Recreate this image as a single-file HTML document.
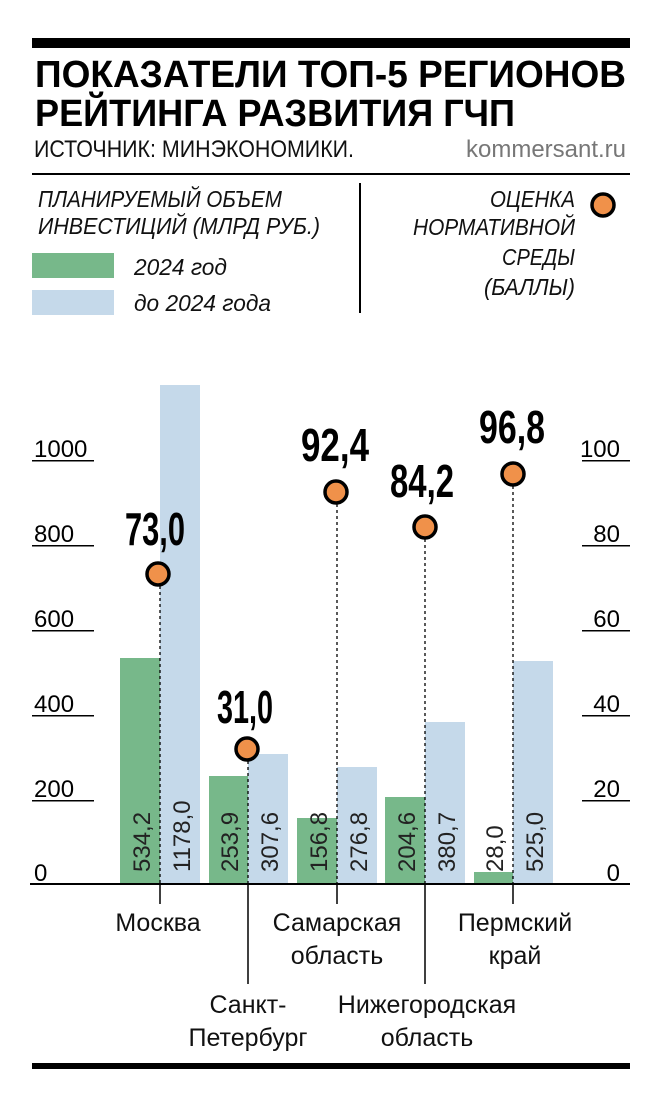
<!DOCTYPE html>
<html><head><meta charset="utf-8"><style>
body{margin:0;background:#fff}
svg{display:block}
text{font-family:"Liberation Sans Narrow","Liberation Sans",sans-serif}
</style></head><body>
<svg width="660" height="1098" viewBox="0 0 660 1098" xmlns="http://www.w3.org/2000/svg">
<rect x="32" y="38" width="598" height="10" fill="#000"/>
<g font-family="Liberation Sans" font-weight="bold" font-size="38" fill="#000">
<text x="35" y="87" textLength="591" lengthAdjust="spacingAndGlyphs">ПОКАЗАТЕЛИ ТОП-5 РЕГИОНОВ</text>
<text x="35" y="126" textLength="480" lengthAdjust="spacingAndGlyphs">РЕЙТИНГА РАЗВИТИЯ ГЧП</text>
</g>
<text x="34" y="157" font-size="24" textLength="320" lengthAdjust="spacingAndGlyphs" fill="#111">ИСТОЧНИК: МИНЭКОНОМИКИ.</text>
<text x="626" y="157" font-size="24" text-anchor="end" textLength="160" lengthAdjust="spacingAndGlyphs" fill="#777">kommersant.ru</text>
<rect x="32" y="173" width="598" height="2" fill="#000"/>
<rect x="359" y="183" width="2" height="130" fill="#000"/>
<g font-size="23" font-style="italic" fill="#111">
<text x="38" y="207" textLength="244" lengthAdjust="spacingAndGlyphs">ПЛАНИРУЕМЫЙ ОБЪЕМ</text>
<text x="38" y="234" textLength="282" lengthAdjust="spacingAndGlyphs">ИНВЕСТИЦИЙ (МЛРД РУБ.)</text>
<text x="134" y="275" textLength="93" lengthAdjust="spacingAndGlyphs">2024 год</text>
<text x="134" y="311" textLength="137" lengthAdjust="spacingAndGlyphs">до 2024 года</text>
<g text-anchor="end">
<text x="575" y="207" textLength="85" lengthAdjust="spacingAndGlyphs">ОЦЕНКА</text>
<text x="575" y="235" textLength="162" lengthAdjust="spacingAndGlyphs">НОРМАТИВНОЙ</text>
<text x="575" y="265" textLength="73" lengthAdjust="spacingAndGlyphs">СРЕДЫ</text>
<text x="575" y="295" textLength="91" lengthAdjust="spacingAndGlyphs">(БАЛЛЫ)</text>
</g></g>
<rect x="32" y="253" width="82" height="25" fill="#77b88a"/>
<rect x="32" y="290" width="82" height="25" fill="#c5d9ea"/>
<circle cx="603" cy="205" r="11" fill="#f0914a" stroke="#000" stroke-width="3.5"/>

<g fill="#000" font-size="24">
<text x="34" y="457">1000</text><rect x="32" y="460" width="62" height="1.5"/>
<text x="34" y="542">800</text><rect x="32" y="545" width="62" height="1.5"/>
<text x="34" y="627">600</text><rect x="32" y="630" width="62" height="1.5"/>
<text x="34" y="712">400</text><rect x="32" y="715" width="62" height="1.5"/>
<text x="34" y="797">200</text><rect x="32" y="800" width="62" height="1.5"/>
<text x="34" y="881">0</text>
<g text-anchor="end">
<text x="620" y="457">100</text><rect x="582" y="460" width="48" height="1.5"/>
<text x="620" y="542">80</text><rect x="582" y="545" width="48" height="1.5"/>
<text x="620" y="627">60</text><rect x="582" y="630" width="48" height="1.5"/>
<text x="620" y="712">40</text><rect x="582" y="715" width="48" height="1.5"/>
<text x="620" y="797">20</text><rect x="582" y="800" width="48" height="1.5"/>
<text x="620" y="881">0</text>
</g></g>

<g fill="#77b88a">
<rect x="120" y="658" width="40" height="226"/>
<rect x="209" y="776" width="39" height="108"/>
<rect x="297" y="818" width="40" height="66"/>
<rect x="385" y="797" width="40" height="87"/>
<rect x="474" y="872" width="39" height="12"/>
</g>
<g fill="#c5d9ea">
<rect x="160" y="385" width="40" height="499"/>
<rect x="248" y="754" width="40" height="130"/>
<rect x="337" y="767" width="40" height="117"/>
<rect x="425" y="722" width="40" height="162"/>
<rect x="513" y="661" width="40" height="223"/>
</g>
<g stroke="#000" stroke-width="1.3" stroke-dasharray="3,3">
<line x1="160" y1="574" x2="160" y2="884"/>
<line x1="248" y1="749" x2="248" y2="884"/>
<line x1="337" y1="492" x2="337" y2="884"/>
<line x1="425" y1="527" x2="425" y2="884"/>
<line x1="513" y1="474" x2="513" y2="884"/>
</g>
<g stroke="#000" stroke-width="1.5">
<line x1="160" y1="884" x2="160" y2="904"/>
<line x1="248" y1="884" x2="248" y2="984"/>
<line x1="337" y1="884" x2="337" y2="904"/>
<line x1="425" y1="884" x2="425" y2="984"/>
<line x1="513" y1="884" x2="513" y2="904"/>
</g>
<rect x="30" y="883" width="600" height="2" fill="#000"/>
<g font-size="24" fill="#222">
<text transform="translate(150,872) rotate(-90)">534,2</text>
<text transform="translate(190,872) rotate(-90)">1178,0</text>
<text transform="translate(238,872) rotate(-90)">253,9</text>
<text transform="translate(278,872) rotate(-90)">307,6</text>
<text transform="translate(327,872) rotate(-90)">156,8</text>
<text transform="translate(367,872) rotate(-90)">276,8</text>
<text transform="translate(415,872) rotate(-90)">204,6</text>
<text transform="translate(455,872) rotate(-90)">380,7</text>
<text transform="translate(503,872) rotate(-90)">28,0</text>
<text transform="translate(543,872) rotate(-90)">525,0</text>
</g>
<g fill="#f0914a" stroke="#000" stroke-width="3.5">
<circle cx="158" cy="574" r="11"/>
<circle cx="247" cy="749" r="11"/>
<circle cx="336" cy="492" r="11"/>
<circle cx="425" cy="527" r="11"/>
<circle cx="513" cy="474" r="11"/>
</g>
<g font-family="Liberation Sans" font-weight="bold" font-size="46" text-anchor="middle" fill="#000">
<text x="155" y="545" textLength="60" lengthAdjust="spacingAndGlyphs">73,0</text>
<text x="245" y="723" textLength="56" lengthAdjust="spacingAndGlyphs">31,0</text>
<text x="335" y="461" textLength="68" lengthAdjust="spacingAndGlyphs">92,4</text>
<text x="422" y="497" textLength="64" lengthAdjust="spacingAndGlyphs">84,2</text>
<text x="512" y="443" textLength="66" lengthAdjust="spacingAndGlyphs">96,8</text>
</g>
<g font-size="25" text-anchor="middle" fill="#111">
<text x="158" y="931">Москва</text>
<text x="337" y="931">Самарская</text>
<text x="337" y="964">область</text>
<text x="515" y="931">Пермский</text>
<text x="515" y="964">край</text>
<text x="248" y="1013">Санкт-</text>
<text x="248" y="1046">Петербург</text>
<text x="427" y="1013">Нижегородская</text>
<text x="427" y="1046">область</text>
</g>
<rect x="32" y="1063" width="598" height="6" fill="#000"/>
</svg>
</body></html>
